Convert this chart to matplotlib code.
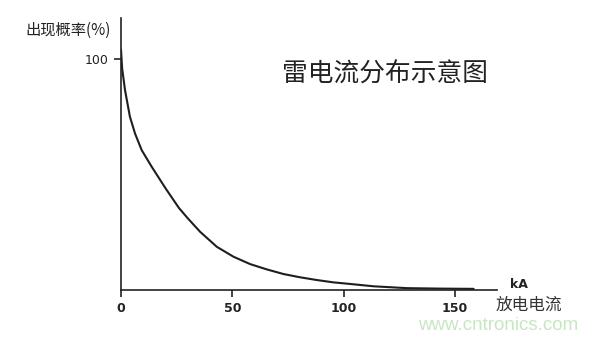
import matplotlib
matplotlib.use("Agg")
import matplotlib.pyplot as plt

plt.rcParams['font.family'] = ['Noto Sans CJK SC', 'DejaVu Sans']

# Data
current_ka = [0, 0.5, 1.8, 4, 6.3, 9.3, 13.8, 20, 26, 30, 35.5, 43, 50.5, 58, 65.5,
              73, 80.4, 88, 95.4, 103, 113.4, 128.4, 143.4, 158.3]
probability = [104, 96, 86.5, 75, 67.7, 60.5, 53.3, 44, 35.5, 31, 25.2, 18.7, 14.4, 11.2, 8.9,
               6.9, 5.5, 4.3, 3.3, 2.6, 1.6, 0.8, 0.6, 0.5]
x_ticks = [0, 50, 100, 150]
y_ticks = [100]

title = "雷电流分布示意图"
ylabel = "出现概率(%)"
xunit = "kA"
xlabel = "放电电流"
watermark = "www.cntronics.com"

W, H = 600, 340
fig = plt.figure(figsize=(W / 100, H / 100), dpi=100)
ax = fig.add_axes([121 / W, 50 / H, 376 / W, 272 / H])

ax.plot(current_ka, probability, color="#1e1e1e", lw=1.5, solid_capstyle="round",
        solid_joinstyle="round")
ax.set_xlim(0, 168.8)
ax.set_ylim(0, 117.7)

for s in ("top", "right"):
    ax.spines[s].set_visible(False)
for s in ("left", "bottom"):
    ax.spines[s].set_linewidth(1.2)
    ax.spines[s].set_color("#222222")

ax.set_xticks(x_ticks)
ax.set_xticklabels([str(v) for v in x_ticks], fontweight="bold", color="#222222",
                   family="DejaVu Sans", fontsize=9)
ax.set_yticks(y_ticks)
ax.set_yticklabels([str(v) for v in y_ticks], color="#222222", family="DejaVu Sans", fontsize=9)
ax.tick_params(axis="both", direction="out", length=5, width=1.2, color="#222222", pad=4)

def ft(x, y, s, **kw):
    fig.text(x / W, 1 - y / H, s, **kw)

ft(385, 75, title, fontsize=18.5, ha="center", va="center", color="#222222")
ft(68, 30, ylabel, fontsize=11, ha="center", va="center", color="#222222")
ft(519, 284, xunit, fontsize=9, ha="center", va="center", fontweight="bold",
   color="#222222", family="DejaVu Sans")
ft(529, 305, xlabel, fontsize=12, ha="center", va="center", color="#333333")
ft(498, 325, watermark, fontsize=13.5, ha="center", va="center", color="#c8e6c4",
   family="Liberation Sans")

fig.savefig("out.png", dpi=100)
